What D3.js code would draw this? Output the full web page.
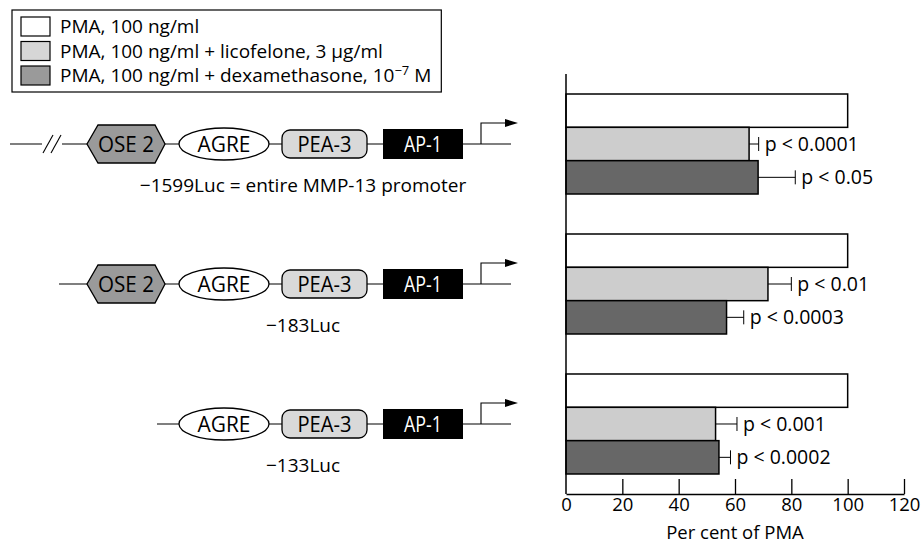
<!DOCTYPE html>
<html><head><meta charset="utf-8">
<script src="https://cdn.jsdelivr.net/npm/d3@7"></script>
<style>body{margin:0;background:#fff}text{font-family:"Open Sans","Noto Sans",sans-serif}</style>
</head><body>
<svg id="c" width="921" height="543"></svg>
<script>
// ---- data ----
const constructs = ["−1599Luc = entire MMP-13 promoter", "−183Luc", "−133Luc"];
const series = ["PMA, 100 ng/ml", "PMA, 100 ng/ml + licofelone, 3 µg/ml", "PMA, 100 ng/ml + dexamethasone, 10"];
const pmaValues = [100, 100, 100];
const licofeloneValues = [65, 71.7, 53.1];
const licofeloneErrors = [3.4, 8.3, 7.6];
const dexaValues = [68.2, 57, 54.3];
const dexaErrors = [13.2, 6.1, 4.1];
const licofeloneP = ["p < 0.0001", "p < 0.01", "p < 0.001"];
const dexaP = ["p < 0.05", "p < 0.0003", "p < 0.0002"];
const xTicks = [0, 20, 40, 60, 80, 100, 120];
const elements = [["OSE 2", "AGRE", "PEA-3", "AP-1"], ["OSE 2", "AGRE", "PEA-3", "AP-1"], ["AGRE", "PEA-3", "AP-1"]];
const axisTitle = "Per cent of PMA";

const barFill = ["#ffffff", "#cdcdcd", "#676767"];
const legendFill = ["#ffffff", "#d6d6d6", "#9a9a9a"];

const svg = d3.select("#c");
const x = d3.scaleLinear().domain([0, 120]).range([566, 904]);
const y = d3.scaleBand().domain(constructs).range([74, 494]).paddingInner(0.2857).paddingOuter(0.1429);
const ys = d3.scaleBand().domain([0, 1, 2]).range([0, y.bandwidth()]);

const rows = constructs.map((c, i) => ({
  c, i,
  vals: [{v: pmaValues[i]}, {v: licofeloneValues[i], e: licofeloneErrors[i], p: licofeloneP[i]}, {v: dexaValues[i], e: dexaErrors[i], p: dexaP[i]}]
}));

const g = svg.append("g");
rows.forEach(r => {
  const gy = y(r.c);
  r.vals.forEach((d, k) => {
    const yy = gy + ys(k);
    if (d.e) {
      const ey = yy + ys.bandwidth() / 2;
      g.append("line").attr("x1", x(d.v)).attr("x2", x(d.v + d.e)).attr("y1", ey).attr("y2", ey).attr("stroke", "#000").attr("stroke-width", 1);
      g.append("line").attr("x1", x(d.v + d.e)).attr("x2", x(d.v + d.e)).attr("y1", ey - 7).attr("y2", ey + 7).attr("stroke", "#000").attr("stroke-width", 1);
      g.append("text").attr("x", x(d.v + d.e) + 6).attr("y", ey + 7).attr("font-size", 19.5).text(d.p);
    }
    g.append("rect").attr("x", x(0)).attr("y", yy).attr("width", x(d.v) - x(0)).attr("height", ys.bandwidth())
      .attr("fill", barFill[k]).attr("stroke", "#000").attr("stroke-width", 1.5);
  });
});

// axes
const ax = svg.append("g").attr("transform", "translate(0,494)")
  .call(d3.axisBottom(x).tickValues(xTicks).tickSize(-15).tickPadding(17).tickSizeOuter(0));
ax.select(".domain").attr("stroke-width", 1.5);
ax.selectAll(".tick line").attr("stroke-width", 1.3);
ax.selectAll(".tick").filter(d => d === 0).select("line").remove();
ax.selectAll("text").attr("font-size", 18.5).attr("font-family", "Open Sans").attr("dy", "0");
svg.append("line").attr("x1", x(0)).attr("x2", x(0)).attr("y1", 74).attr("y2", 494).attr("stroke", "#000").attr("stroke-width", 1.5);
svg.append("text").attr("x", (x(0) + x(120)) / 2).attr("y", 539).attr("text-anchor", "middle").attr("font-size", 18.5).text(axisTitle);

// legend
const lg = svg.append("g");
const box = lg.append("rect").attr("x", 12).attr("y", 10).attr("height", 82).attr("fill", "none").attr("stroke", "#000").attr("stroke-width", 1.2);
let maxEnd = 0;
series.forEach((s, k) => {
  const ly = 17 + k * 24.5;
  lg.append("rect").attr("x", 21).attr("y", ly).attr("width", 29).attr("height", 19).attr("fill", legendFill[k]).attr("stroke", "#000").attr("stroke-width", 1.2);
  const t = lg.append("text").attr("x", 60).attr("y", ly + 16).attr("font-size", 19).text(s);
  if (k === 2) {
    t.append("tspan").attr("dy", -7).attr("font-size", 13).text("−7");
    t.append("tspan").attr("dy", 7).text(" M");
  }
  const bb = t.node().getBBox();
  maxEnd = Math.max(maxEnd, bb.x + bb.width);
});
box.attr("width", maxEnd + 10 - 12);

// promoter diagrams
const lineStart = [10, 59, 157];
const posX = {"OSE 2": 126, "AGRE": 224, "PEA-3": 324.5, "AP-1": 423};
const textW = {"OSE 2": 56, "AGRE": 53, "PEA-3": 54, "AP-1": 38};
rows.forEach(r => {
  const cy = y(r.c) + y.bandwidth() / 2;
  const pg = svg.append("g");
  pg.append("line").attr("x1", lineStart[r.i]).attr("x2", 511).attr("y1", cy).attr("y2", cy).attr("stroke", "#000").attr("stroke-width", 1.2);
  if (r.i === 0) {
    pg.append("rect").attr("x", 42).attr("y", cy - 3).attr("width", 20).attr("height", 6).attr("fill", "#fff");
    [43, 51].forEach(bx => pg.append("line").attr("x1", bx).attr("x2", bx + 10).attr("y1", cy + 9).attr("y2", cy - 9).attr("stroke", "#000").attr("stroke-width", 1.1));
  }
  elements[r.i].forEach(el => {
    const ex = posX[el];
    if (el === "OSE 2") {
      const pts = [[ex - 39, cy], [ex - 28, cy - 19], [ex + 29, cy - 19], [ex + 39, cy], [ex + 29, cy + 19], [ex - 28, cy + 19]];
      pg.append("polygon").attr("points", pts.map(p => p.join(",")).join(" ")).attr("fill", "#9a9a9a").attr("stroke", "#000").attr("stroke-width", 1.3);
    } else if (el === "AGRE") {
      pg.append("ellipse").attr("cx", ex).attr("cy", cy).attr("rx", 45).attr("ry", 16).attr("fill", "#fff").attr("stroke", "#000").attr("stroke-width", 1.3);
    } else if (el === "PEA-3") {
      pg.append("rect").attr("x", ex - 42.5).attr("y", cy - 14).attr("width", 85).attr("height", 28).attr("rx", 8).attr("fill", "#d9d9d9").attr("stroke", "#000").attr("stroke-width", 1.3);
    } else {
      pg.append("rect").attr("x", ex - 40).attr("y", cy - 15).attr("width", 80).attr("height", 30).attr("fill", "#000");
    }
    pg.append("text").attr("x", ex - textW[el] / 2).attr("y", cy + 8).attr("font-size", 21)
      .attr("textLength", textW[el]).attr("lengthAdjust", "spacingAndGlyphs")
      .attr("fill", el === "AP-1" ? "#fff" : "#000").text(el);
  });
  pg.append("path").attr("d", `M481,${cy} V${cy - 21} H506`).attr("fill", "none").attr("stroke", "#000").attr("stroke-width", 1.1);
  pg.append("path").attr("d", `M505,${cy - 25} L518,${cy - 21} L505,${cy - 17} Z`).attr("fill", "#000");
  pg.append("text").attr("x", 303).attr("y", cy + 48).attr("text-anchor", "middle").attr("font-size", 19).text(r.c);
});
</script>
</body></html>
